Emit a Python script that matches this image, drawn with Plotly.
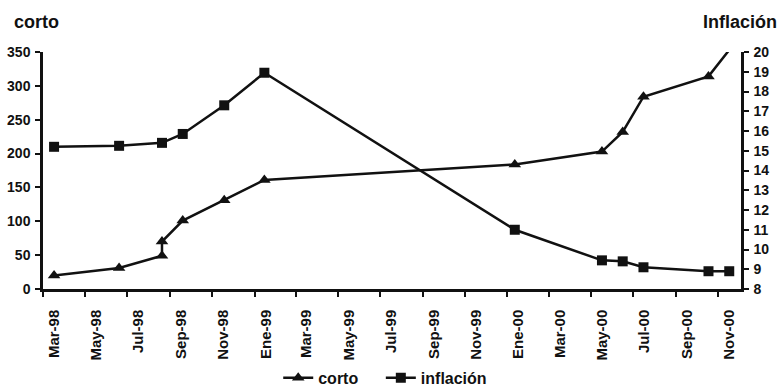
import plotly.graph_objects as go

# Series data
fechas_corto = ["1998-03-17", "1998-06-19", "1998-08-20", "1998-08-20", "1998-09-19",
                "1998-11-18", "1999-01-15", "2000-01-12", "2000-05-17", "2000-06-16",
                "2000-07-16", "2000-10-18", "2000-11-17"]
corto = [20, 31, 49, 70, 101, 131, 161, 184, 203, 232, 284, 314, 353]

fechas_inflacion = ["1998-03-17", "1998-06-19", "1998-08-20", "1998-09-19", "1998-11-18",
                    "1999-01-15", "2000-01-12", "2000-05-17", "2000-06-16", "2000-07-16",
                    "2000-10-18", "2000-11-17"]
inflacion = [15.2, 15.25, 15.4, 15.85, 17.3, 18.95, 11.0, 9.45, 9.4, 9.1, 8.9, 8.9]

# Axis ticks
tick_fechas = ["1998-03-01", "1998-05-01", "1998-07-01", "1998-09-01", "1998-11-01",
               "1999-01-01", "1999-03-01", "1999-05-01", "1999-07-01", "1999-09-01",
               "1999-11-01", "2000-01-01", "2000-03-01", "2000-05-01", "2000-07-01",
               "2000-09-01", "2000-11-01"]
tick_textos = ["Mar-98", "May-98", "Jul-98", "Sep-98", "Nov-98", "Ene-99", "Mar-99",
               "May-99", "Jul-99", "Sep-99", "Nov-99", "Ene-00", "Mar-00", "May-00",
               "Jul-00", "Sep-00", "Nov-00"]
rango_x = ["1998-03-01", "2000-12-04"]

FONT = "Liberation Sans, Arial, sans-serif"
NEGRO = "#111111"

fig = go.Figure()
fig.add_trace(go.Scatter(
    x=fechas_corto, y=corto, name="corto", mode="lines+markers",
    line=dict(color=NEGRO, width=2.5),
    marker=dict(symbol="triangle-up", size=11, color=NEGRO),
    cliponaxis=False, yaxis="y", xaxis="x", legend="legend",
))
fig.add_trace(go.Scatter(
    x=fechas_inflacion, y=inflacion, name="inflación", mode="lines+markers",
    line=dict(color=NEGRO, width=2.5),
    marker=dict(symbol="square", size=10, color=NEGRO),
    cliponaxis=False, yaxis="y2", xaxis="x", legend="legend2",
))

tickfont = dict(family=FONT, size=14, color=NEGRO, weight="bold")
xtickfont = dict(family=FONT, size=15, color=NEGRO, weight="bold")
legfont = dict(family=FONT, size=16, color=NEGRO, weight="bold")

fig.update_layout(
    width=780, height=390,
    margin=dict(l=43, r=39, t=52, b=101, autoexpand=False),
    paper_bgcolor="white", plot_bgcolor="white",
    showlegend=True,
    legend=dict(orientation="h", x=0.337, xanchor="left", y=-0.375, yanchor="middle",
                font=legfont, itemwidth=30, bgcolor="rgba(0,0,0,0)"),
    legend2=dict(orientation="h", x=0.484, xanchor="left", y=-0.375, yanchor="middle",
                 font=legfont, itemwidth=30, bgcolor="rgba(0,0,0,0)"),
    xaxis=dict(
        type="date", range=rango_x, tickvals=tick_fechas, ticktext=tick_textos,
        tickangle=-90, tickfont=xtickfont, ticks="outside", ticklen=5, tickwidth=2,
        tickcolor=NEGRO, showline=True, linecolor=NEGRO, linewidth=2.5,
        showgrid=False, zeroline=False, ticklabelshift=11, ticklabelstandoff=7,
        automargin=False,
    ),
    xaxis2=dict(
        type="date", range=rango_x, tickvals=tick_fechas, overlaying="x", anchor="y",
        side="bottom", ticks="inside", ticklen=5, tickwidth=2, tickcolor=NEGRO,
        showticklabels=False, showline=False, showgrid=False, zeroline=False,
        automargin=False,
    ),
    yaxis=dict(
        range=[0, 350], dtick=50, tickfont=tickfont, ticks="outside", ticklen=5,
        tickwidth=2, tickcolor=NEGRO, showline=True, linecolor=NEGRO, linewidth=2.5,
        showgrid=False, zeroline=False, ticklabelstandoff=2, automargin=False,
    ),
    yaxis2=dict(
        range=[8, 20], dtick=1, overlaying="y", side="right", anchor="x",
        tickfont=tickfont, ticks="outside", ticklen=5, tickwidth=2, tickcolor=NEGRO,
        showline=True, linecolor=NEGRO, linewidth=2.5, showgrid=False, zeroline=False,
        ticklabelstandoff=2, automargin=False,
    ),
)

# Axis titles placed above each y axis (pixel positions converted to paper units)
plot_w = 780 - 43 - 39
plot_h = 390 - 52 - 101
titulo_font = dict(family=FONT, size=18, color=NEGRO, weight="bold")
fig.add_annotation(text="corto", x=(12 - 43) / plot_w, y=(289 - 22) / plot_h,
                   xref="paper", yref="paper", xanchor="left", yanchor="middle",
                   showarrow=False, font=titulo_font)
fig.add_annotation(text="Inflación", x=(779 - 43) / plot_w, y=(289 - 22) / plot_h,
                   xref="paper", yref="paper", xanchor="right", yanchor="middle",
                   showarrow=False, font=titulo_font)

fig.write_html("out.html")
